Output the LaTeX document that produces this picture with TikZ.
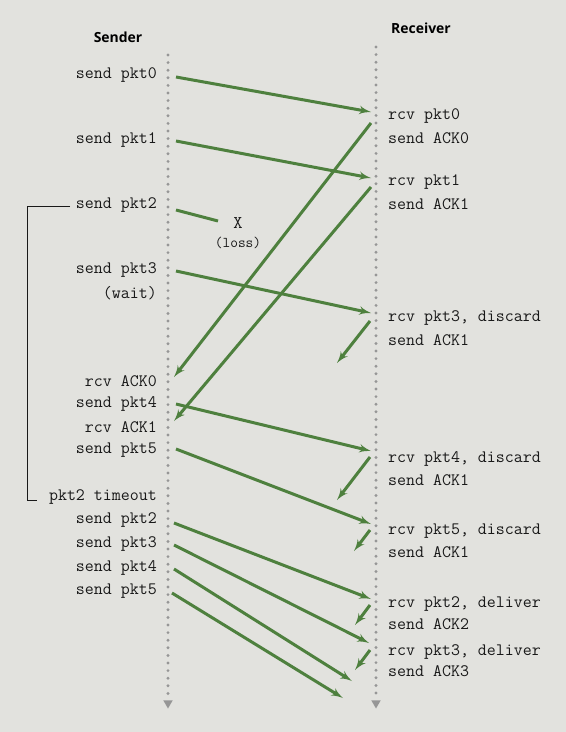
\documentclass[tikz,border=0pt]{standalone}
\usepackage{fontspec}
\newfontfamily\headfont{Open Sans}
\usetikzlibrary{arrows,shapes.geometric,positioning}
\definecolor{paper}{RGB}{226,226,222}
\definecolor{pktgreen}{RGB}{78,128,62}
\definecolor{ink}{RGB}{25,25,25}
\definecolor{dotgrey}{RGB}{150,150,150}
\tikzstyle{line} = [draw, -latex']
\tikzstyle{msg} = [line, pktgreen, line width=3bp]
\tikzstyle{lost} = [draw, pktgreen, line width=3bp]
\tikzstyle{sndlbl} = [anchor=east, inner sep=0pt, text=ink, font=\fontsize{17.5}{18}\selectfont\ttfamily]
\tikzstyle{rcvlbl} = [anchor=west, inner sep=0pt, text=ink, font=\fontsize{17.5}{18}\selectfont\ttfamily]
\tikzstyle{title} = [inner sep=0pt, text=black, font=\headfont\bfseries\fontsize{14}{16}\selectfont]
\tikzstyle{timeline} = [draw, dotgrey, line width=3.2bp, line cap=round, dash pattern=on 0pt off 7.6bp]
\tikzstyle{tlend} = [regular polygon, regular polygon sides=3, shape border rotate=180, fill=dotgrey, inner sep=0pt, minimum size=11bp]

\begin{document}
\begin{tikzpicture}[x=1bp, y=-1bp]
		\fill[paper] (0,0) rectangle (566,732);
		\useasboundingbox (0,0) rectangle (566,732);
		
		\node[title] (sender) at (118,37) {Sender};
		\node[title] (receiver) at (421,28) {Receiver};
		
		% time lines
		\coordinate (snd_top) at (168,55);
		\coordinate (rcv_top) at (376,47);
		\node[tlend] (snd_end) at (168,703) {};
		\node[tlend] (rcv_end) at (376,703) {};
		\path [timeline] (snd_top) to (snd_end.north);
		\path [timeline] (rcv_top) to (rcv_end.north);
		
		% sender side
		\node[sndlbl] (snd_pkt0) at (157,75) {send pkt0};
		\node[sndlbl] (snd_pkt1) at (157,140) {send pkt1};
		\node[sndlbl] (snd_pkt2) at (157,205) {send pkt2};
		\node[sndlbl] (snd_pkt3) at (157,270) {send pkt3};
		\node[sndlbl] (snd_wait) at (157,293) {(wait)};
		\node[sndlbl] (snd_ack0) at (157,381) {rcv ACK0};
		\node[sndlbl] (snd_pkt4) at (157,404) {send pkt4};
		\node[sndlbl] (snd_ack1) at (157,427) {rcv ACK1};
		\node[sndlbl] (snd_pkt5) at (157,450) {send pkt5};
		\node[sndlbl] (snd_timeout) at (157,497) {pkt2 timeout};
		\node[sndlbl] (snd_pkt2r) at (157,520) {send pkt2};
		\node[sndlbl] (snd_pkt3r) at (157,544) {send pkt3};
		\node[sndlbl] (snd_pkt4r) at (157,568) {send pkt4};
		\node[sndlbl] (snd_pkt5r) at (157,591) {send pkt5};
		
		\coordinate (brk_top) at (70,206);
		\coordinate (brk_corner) at (27,500);
		\coordinate (brk_bot) at (37,500);
		\draw [ink, line width=0.9bp] (brk_top) -| (brk_corner) -- (brk_bot);
		
		% receiver side
		\node[rcvlbl] (rcv_pkt0) at (388,116) {rcv pkt0};
		\node[rcvlbl, below=22bp of rcv_pkt0.west, anchor=west] (rcv_ack0) {send ACK0};
		\node[rcvlbl] (rcv_pkt1) at (388,182) {rcv pkt1};
		\node[rcvlbl, below=22bp of rcv_pkt1.west, anchor=west] (rcv_ack1) {send ACK1};
		\node[rcvlbl] (rcv_pkt3) at (388,318) {rcv pkt3, discard};
		\node[rcvlbl, below=22bp of rcv_pkt3.west, anchor=west] (rcv_ack1b) {send ACK1};
		\node[rcvlbl] (rcv_pkt4) at (388,459) {rcv pkt4, discard};
		\node[rcvlbl, below=21bp of rcv_pkt4.west, anchor=west] (rcv_ack1c) {send ACK1};
		\node[rcvlbl] (rcv_pkt5) at (388,531) {rcv pkt5, discard};
		\node[rcvlbl, below=21bp of rcv_pkt5.west, anchor=west] (rcv_ack1d) {send ACK1};
		\node[rcvlbl] (rcv_pkt2d) at (388,604) {rcv pkt2, deliver};
		\node[rcvlbl, below=20bp of rcv_pkt2d.west, anchor=west] (rcv_ack2) {send ACK2};
		\node[rcvlbl] (rcv_pkt3d) at (388,652) {rcv pkt3, deliver};
		\node[rcvlbl, below=19bp of rcv_pkt3d.west, anchor=west] (rcv_ack3) {send ACK3};
		
		% first packets and acks
		\coordinate (out_pkt0) at (176,77);
		\coordinate (in_pkt0) at (371,112);
		\path [msg] (out_pkt0) to (in_pkt0);
		\coordinate (out_pkt1) at (176,141);
		\coordinate (in_pkt1) at (371,178);
		\path [msg] (out_pkt1) to (in_pkt1);
		
		\coordinate (out_pkt2) at (176,210);
		\coordinate (drop_pkt2) at (218,221);
		\path [lost] (out_pkt2) to (drop_pkt2);
		\node[text=ink, inner sep=0pt, font=\fontsize{18}{18}\selectfont\ttfamily] (loss_x) at (238,223) {X};
		\node[text=ink, inner sep=0pt, font=\fontsize{15}{16}\selectfont\ttfamily] (loss) at (238,243) {(loss)};
		
		\coordinate (out_ack0) at (371,123);
		\coordinate (in_ack0) at (174,377);
		\path [msg] (out_ack0) to (in_ack0);
		\coordinate (out_ack1) at (371,187);
		\coordinate (in_ack1) at (174,421);
		\path [msg] (out_ack1) to (in_ack1);
		
		\coordinate (out_pkt3) at (176,271);
		\coordinate (in_pkt3) at (371,313);
		\path [msg] (out_pkt3) to (in_pkt3);
		\coordinate (out_ack1b) at (370,321);
		\coordinate (in_ack1b) at (337,363);
		\path [msg] (out_ack1b) to (in_ack1b);
		
		\coordinate (out_pkt4) at (176,404);
		\coordinate (in_pkt4) at (371,451);
		\path [msg] (out_pkt4) to (in_pkt4);
		\coordinate (out_ack1c) at (370,457);
		\coordinate (in_ack1c) at (337,500);
		\path [msg] (out_ack1c) to (in_ack1c);
		
		\coordinate (out_pkt5) at (176,449);
		\coordinate (in_pkt5) at (371,524);
		\path [msg] (out_pkt5) to (in_pkt5);
		\coordinate (out_ack1d) at (370,530);
		\coordinate (in_ack1d) at (354,551);
		\path [msg] (out_ack1d) to (in_ack1d);
		
		% go-back-n resend
		\coordinate (out_pkt2r) at (174,523);
		\coordinate (in_pkt2r) at (371,599);
		\path [msg] (out_pkt2r) to (in_pkt2r);
		\coordinate (out_ack2) at (370,605);
		\coordinate (in_ack2) at (355,625);
		\path [msg] (out_ack2) to (in_ack2);
		
		\coordinate (out_pkt3r) at (174,545);
		\coordinate (in_pkt3r) at (369,643);
		\path [msg] (out_pkt3r) to (in_pkt3r);
		\coordinate (out_ack3) at (370,650);
		\coordinate (in_ack3) at (355,670);
		\path [msg] (out_ack3) to (in_ack3);
		
		\coordinate (out_pkt4r) at (174,569);
		\coordinate (in_pkt4r) at (352,681);
		\path [msg] (out_pkt4r) to (in_pkt4r);
		\coordinate (out_pkt5r) at (172,593);
		\coordinate (in_pkt5r) at (343,698);
		\path [msg] (out_pkt5r) to (in_pkt5r);
\end{tikzpicture}
\end{document}
